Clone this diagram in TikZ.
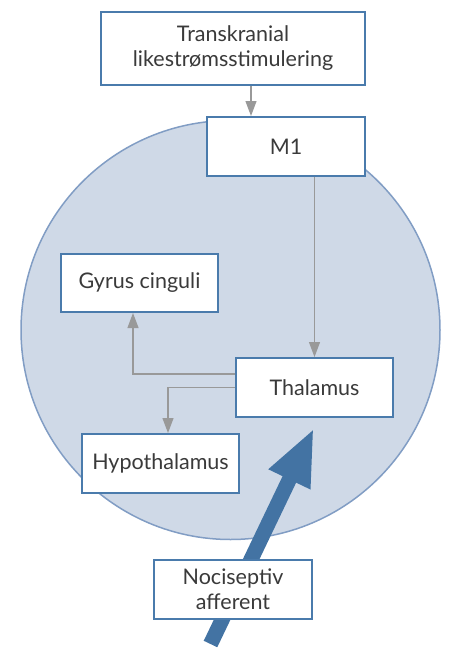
\documentclass[tikz,border=0pt]{standalone}
\usepackage{fontspec}
\setmainfont{Lato}
\usepackage{tikz}
\usetikzlibrary{arrows.meta}

\definecolor{circfill}{HTML}{CFD9E7}
\definecolor{circline}{HTML}{819DC4}
\definecolor{boxline}{HTML}{4A7BAC}
\definecolor{affblue}{HTML}{4373A3}
\definecolor{connline}{HTML}{999999}
\definecolor{txt}{HTML}{3A3A3A}

\begin{document}
\begin{tikzpicture}[x=1pt, y=-1pt,
    box/.style={draw=boxline, line width=2pt, fill=white, text=txt,
      align=center, inner sep=0pt, font=\fontsize{21.5}{25}\selectfont},
    conn/.style={draw=connline, line width=1.2pt, -{Triangle[length=15pt,width=11pt]}},
    aff/.style={draw=affblue, line width=15pt, -{Triangle[length=57pt,width=42pt]}}]
      \useasboundingbox (0,0) rectangle (451,648);

      \draw[draw=circline, fill=circfill, line width=1.5pt] (230.5,330) circle[radius=209.5pt];

      \coordinate (afftail) at (210.5,644);
      \coordinate (afftip) at (314,428);
      \draw[aff] (afftail) -- (afftip);

      \node[box, minimum width=264pt, minimum height=73pt] (tdcs) at (233,48.5) {Transkranial\\likestrømsstimulering};
      \node[box, minimum width=158pt, minimum height=59pt] (m1) at (286,146.5) {M1};
      \node[box, minimum width=157pt, minimum height=58pt] (gyrus) at (139.5,283) {Gyrus cinguli};
      \node[box, minimum width=157pt, minimum height=59pt] (thal) at (314.5,387.5) {Thalamus};
      \node[box, minimum width=157pt, minimum height=59pt] (hypo) at (160.5,463.5) {Hypothalamus};
      \node[box, minimum width=158pt, minimum height=59pt] (noci) at (233,589.5) {Nociseptiv\\afferent};

      \coordinate (tdcsout) at (251,0);
      \draw[conn] (tdcs.south -| tdcsout) -- (m1.north -| tdcsout);
      \draw[conn] (thal.north |- m1.south) -- (thal.north);
      \draw[conn] ([yshift=13.5pt]thal.west) -| ([xshift=-6.5pt]gyrus.south);
      \draw[conn] (thal.west) -| ([xshift=7.5pt]hypo.north);
    \end{tikzpicture}
\end{document}
